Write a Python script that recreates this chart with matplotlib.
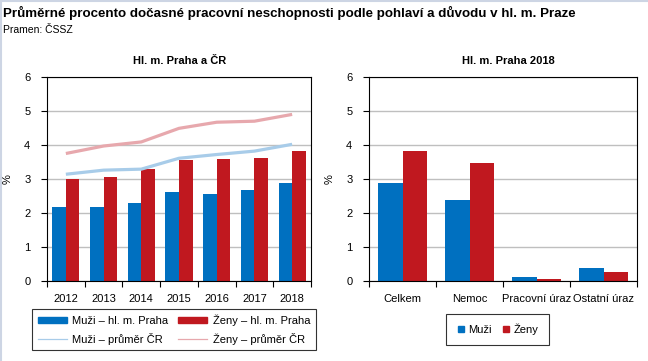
import matplotlib
matplotlib.use("Agg")
import matplotlib.pyplot as plt
from matplotlib.patches import Rectangle
from matplotlib.lines import Line2D
import numpy as np

plt.rcParams['font.family'] = ['Liberation Sans', 'DejaVu Sans']

years = ['2012', '2013', '2014', '2015', '2016', '2017', '2018']
muzi_praha = [2.19, 2.19, 2.30, 2.62, 2.56, 2.68, 2.88]
zeny_praha = [3.00, 3.06, 3.29, 3.56, 3.59, 3.62, 3.82]
muzi_cr = [3.14, 3.26, 3.29, 3.61, 3.72, 3.82, 4.02]
zeny_cr = [3.75, 3.97, 4.09, 4.49, 4.67, 4.70, 4.90]

reasons = ['Celkem', 'Nemoc', 'Pracovní úraz', 'Ostatní úraz']
muzi_2018 = [2.88, 2.38, 0.12, 0.38]
zeny_2018 = [3.82, 3.47, 0.06, 0.27]

BLUE = '#0070C0'
RED = '#C0181F'
LBLUE = '#A8CCE9'
LRED = '#E7A8AD'
GRID = '#BFBFBF'

W, H = 648, 361
fig = plt.figure(figsize=(W / 100, H / 100), dpi=100)

def fx(px):
    return px / W

def fy(py):
    return 1 - py / H

# faint outer border (left and top edges)
fig.add_artist(Line2D([fx(0.5), fx(0.5)], [0, 1], color='#CDD5E4', linewidth=1.5))
fig.add_artist(Line2D([0, 1], [fy(0.5), fy(0.5)], color='#CDD5E4', linewidth=1.5))

ax1 = fig.add_axes([fx(47), fy(281), fx(311) - fx(47), fy(77) - fy(281)])
ax2 = fig.add_axes([fx(369), fy(281), fx(637) - fx(369), fy(77) - fy(281)])

def style(ax, n, labels):
    ax.set_ylim(0, 6)
    ax.set_xlim(-0.5, n - 0.5)
    ax.set_yticks(range(0, 7))
    ax.yaxis.grid(True, color=GRID, linewidth=1.0)
    ax.set_axisbelow(True)
    ax.set_xticks(np.arange(-0.5, n, 1.0))
    ax.set_xticklabels([])
    ax.set_xticks(np.arange(n), minor=True)
    ax.set_xticklabels(labels, minor=True)
    ax.tick_params(axis='x', which='major', direction='out', length=4, width=0.8)
    ax.tick_params(axis='x', which='minor', length=0, pad=9, labelsize=8)
    ax.tick_params(axis='y', direction='out', length=4, width=0.8, labelsize=8, pad=8)
    for s in ax.spines.values():
        s.set_linewidth(0.8)
        s.set_color('black')
    ax.set_ylabel('%', fontsize=8, labelpad=8)

x1 = np.arange(len(years))
bw = 0.36
ax1.bar(x1 - bw / 2, muzi_praha, bw, color=BLUE, zorder=2)
ax1.bar(x1 + bw / 2, zeny_praha, bw, color=RED, zorder=2)
ax1.plot(x1, muzi_cr, color=LBLUE, linewidth=2.3, zorder=3, solid_capstyle='butt')
ax1.plot(x1, zeny_cr, color=LRED, linewidth=2.3, zorder=3, solid_capstyle='butt')
style(ax1, len(years), years)

x2 = np.arange(len(reasons))
ax2.bar(x2 - bw / 2, muzi_2018, bw, color=BLUE, zorder=2)
ax2.bar(x2 + bw / 2, zeny_2018, bw, color=RED, zorder=2)
style(ax2, len(reasons), reasons)

fig.text(fx(3), fy(13), 'Průměrné procento dočasné pracovní neschopnosti podle pohlaví a důvodu v hl. m. Praze',
         fontsize=9.6, fontweight='bold', ha='left', va='center')
fig.text(fx(3), fy(30), 'Pramen: ČSSZ', fontsize=7.5, ha='left', va='center')
fig.text(fx(180), fy(61), 'Hl. m. Praha a ČR', fontsize=8, fontweight='bold', ha='center', va='center')
fig.text(fx(508), fy(61), 'Hl. m. Praha 2018', fontsize=8, fontweight='bold', ha='center', va='center')

h1 = [Rectangle((0, 0), 1, 1, color=BLUE), Line2D([], [], color=LBLUE, linewidth=0.9),
      Rectangle((0, 0), 1, 1, color=RED), Line2D([], [], color=LRED, linewidth=0.9)]
l1 = ['Muži – hl. m. Praha', 'Muži – průměr ČR', 'Ženy – hl. m. Praha', 'Ženy – průměr ČR']
leg1 = fig.legend(h1, l1, loc='center', bbox_to_anchor=(fx(174), fy(329.5)), ncol=2,
                  fontsize=8, frameon=True, fancybox=False, edgecolor='black',
                  handlelength=2.6, handleheight=0.55, columnspacing=0.9, labelspacing=0.6,
                  handletextpad=0.5, borderpad=0.5)
leg1.get_frame().set_linewidth(0.8)

h2 = [Line2D([], [], marker='s', color=BLUE, linestyle='none', markersize=4.5),
      Line2D([], [], marker='s', color=RED, linestyle='none', markersize=4.5)]
leg2 = fig.legend(h2, ['Muži', 'Ženy'], loc='center', bbox_to_anchor=(fx(497.5), fy(329.5)), ncol=2,
                  fontsize=8, frameon=True, fancybox=False, edgecolor='black',
                  handlelength=0.8, handletextpad=0.3, columnspacing=0.9, borderpad=0.9)
leg2.get_frame().set_linewidth(0.8)

fig.savefig('out.png', dpi=100)
